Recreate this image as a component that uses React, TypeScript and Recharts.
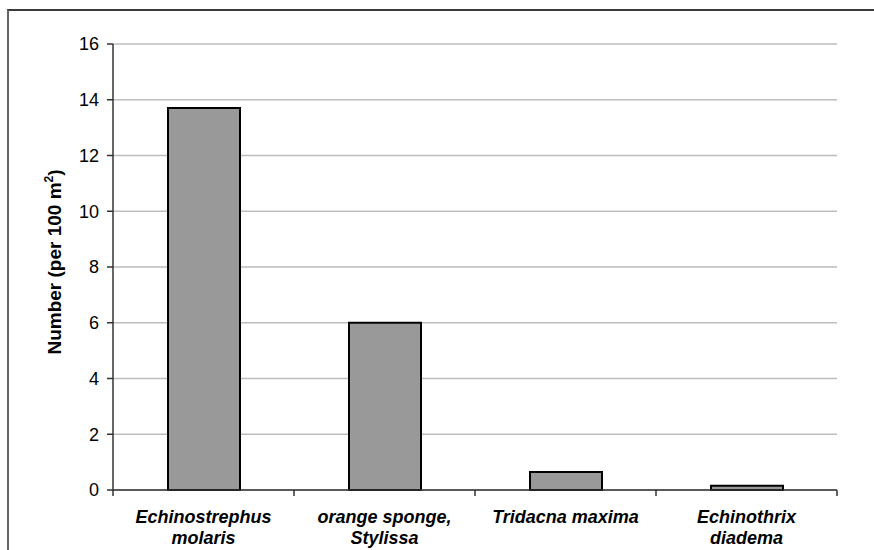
import React from "react";
import {
  BarChart,
  Bar,
  XAxis,
  YAxis,
  CartesianGrid,
} from "recharts";

const categories = [
  "Echinostrephus\nmolaris",
  "orange sponge,\nStylissa",
  "Tridacna maxima",
  "Echinothrix\ndiadema",
];
const values = [13.7, 6.0, 0.65, 0.15];
const yTicks = [0, 2, 4, 6, 8, 10, 12, 14, 16];

const chartData = categories.map((name, i) => ({ name, value: values[i] }));

const FONT = "'Liberation Sans', Arial, sans-serif";

const CategoryTick = (props: any) => {
  const { x, y, payload, index, visibleTicksCount } = props;
  const half = payload.offset || 0;
  const lines = String(payload.value).split("\n");
  const isLast = index === visibleTicksCount - 1;
  return (
    <g>
      <line x1={x - half} x2={x - half} y1={y} y2={y + 6} stroke="#333" strokeWidth={1.5} />
      {isLast && (
        <line x1={x + half} x2={x + half} y1={y} y2={y + 6} stroke="#333" strokeWidth={1.5} />
      )}
      <text
        x={x}
        y={y}
        textAnchor="middle"
        fontFamily={FONT}
        fontSize={18}
        fontWeight="bold"
        fontStyle="italic"
        fill="#000"
      >
        {lines.map((l, i) => (
          <tspan key={i} x={x} dy={i === 0 ? 33 : 21}>
            {l}
          </tspan>
        ))}
      </text>
    </g>
  );
};

const YLabel = () => (
  <text
    transform="translate(61, 262) rotate(-90)"
    textAnchor="middle"
    fontFamily={FONT}
    fontSize={19}
    fontWeight="bold"
    fill="#000"
  >
    <tspan>Number (per 100 m</tspan>
    <tspan dy={-8} fontSize={12}>2</tspan>
    <tspan dy={8}>)</tspan>
  </text>
);

const App: React.FC = () => {
  return (
    <div
      style={{
        position: "fixed",
        left: 0,
        top: 0,
        width: 874,
        height: 550,
        overflow: "hidden",
        background: "#fff",
      }}
    >
      <div
        style={{
          position: "absolute",
          left: 7,
          top: 9,
          width: 1000,
          height: 1000,
          borderTop: "2px solid #3a3a3a",
          borderLeft: "2px solid #666",
        }}
      />
      <div style={{ position: "absolute", left: 0, top: 0 }}>
        <BarChart
          width={874}
          height={550}
          data={chartData}
          margin={{ top: 44, right: 37, left: 0, bottom: 0 }}
          barSize={72}
        >
          <CartesianGrid vertical={false} stroke="#bdbdbd" strokeWidth={1.5} />
          <XAxis
            dataKey="name"
            height={60}
            interval={0}
            tickLine={false}
            tickSize={0}
            tickMargin={0}
            axisLine={{ stroke: "#333", strokeWidth: 1.5 }}
            tick={<CategoryTick />}
          />
          <YAxis
            width={113}
            domain={[0, 16]}
            ticks={yTicks}
            interval={0}
            tickSize={6}
            tickMargin={8}
            axisLine={{ stroke: "#333", strokeWidth: 1.5 }}
            tickLine={{ stroke: "#333", strokeWidth: 1.5 }}
            tick={{ fill: "#000", fontSize: 18, fontFamily: FONT }}
            label={<YLabel />}
          />
          <YAxis
            yAxisId="right"
            orientation="right"
            width={0}
            domain={[0, 16]}
            tick={false}
            tickLine={false}
            axisLine={{ stroke: "#888", strokeWidth: 2 }}
          />
          <Bar
            dataKey="value"
            fill="#999999"
            stroke="#000"
            strokeWidth={2}
            isAnimationActive={false}
          />
        </BarChart>
      </div>
    </div>
  );
};

export default App;
